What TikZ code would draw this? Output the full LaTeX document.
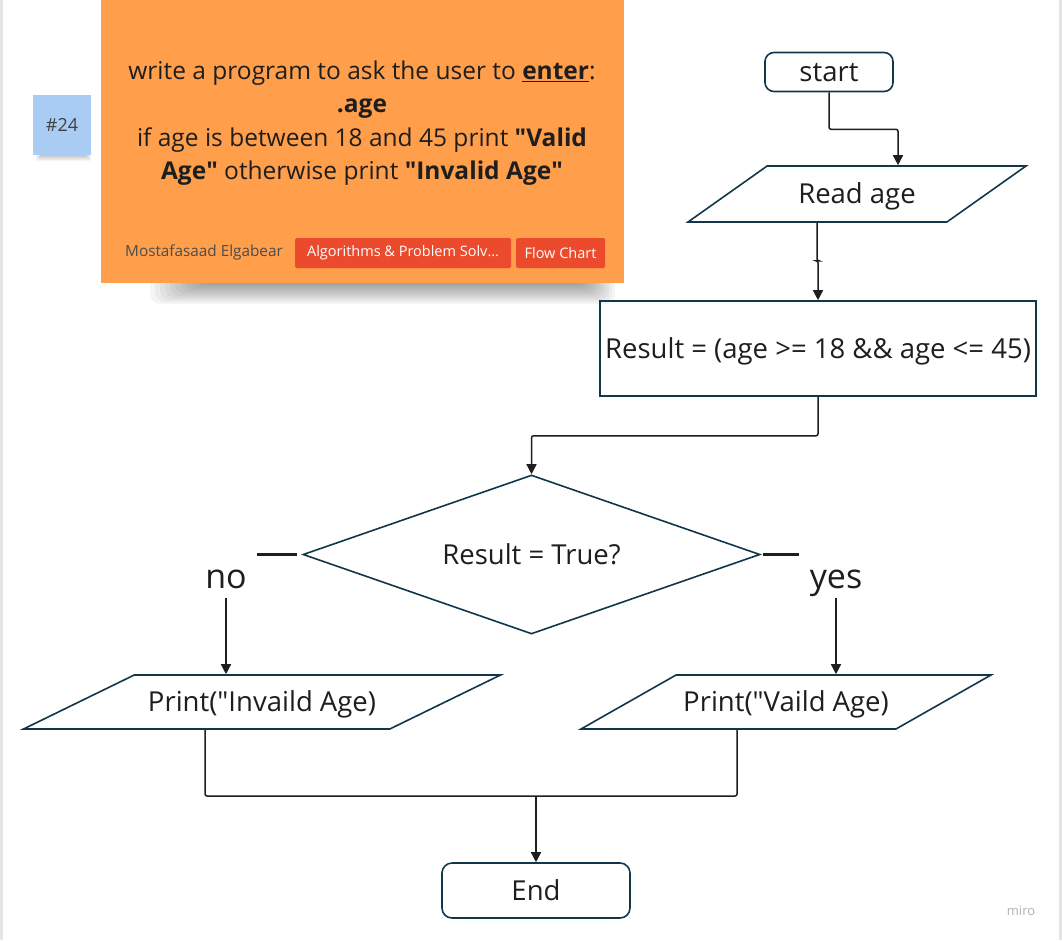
\documentclass[tikz,border=0pt]{standalone}
\usepackage{fontspec}
\setmainfont{Open Sans}
\usetikzlibrary{shapes.geometric,arrows.meta}
\definecolor{edge}{HTML}{12364A}
\definecolor{sticky}{HTML}{FF9E4B}
\definecolor{note}{HTML}{A9CCF4}
\definecolor{tag}{HTML}{EC4A2D}
\definecolor{ink}{HTML}{1E1E1E}
\newcommand{\dq}{\textquotedbl}

\begin{document}
\begin{tikzpicture}[x=1pt,y=-1pt,font=\fontsize{27.5}{32}\selectfont,text=ink,
  box/.style={draw=edge,line width=1.6pt,inner sep=0,text height=19.5pt,text depth=0pt},
  term/.style={box,rounded corners=9pt},
  io/.style={box,trapezium,trapezium stretches body=true,inner xsep=0},
  proc/.style={box},
  cond/.style={box,diamond,aspect=2.87},
  arr/.style={draw=ink,line width=1.5pt,rounded corners=2pt,-{Triangle[length=10pt,width=10pt]}},
  conn/.style={draw=ink,line width=1.5pt,rounded corners=2pt},
  lbl/.style={font=\fontsize{34}{40}\selectfont,inner sep=2pt},
  chip/.style={fill=tag,text=white,font=\fontsize{14.5}{17}\selectfont,minimum height=30pt,inner sep=0,rounded corners=1.5pt}]
\useasboundingbox (0,0) rectangle (1062,940);
\fill[white] (0,0) rectangle (1062,940);
\draw[black!10,line width=3pt] (1.5,0) -- (1.5,940) (1060.5,0) -- (1060.5,940);

\foreach \i in {0,...,11}
  \fill[black,opacity=0.04,rounded corners=10pt] (150+5*\i,270) rectangle (615-3*\i,304-2*\i);
\foreach \i in {0,...,5}
  \fill[black,opacity=0.04] (36+\i,150) rectangle (91-\i,161-\i);

\node[fill=note,minimum width=58pt,minimum height=60pt,inner sep=0,font=\fontsize{18}{20}\selectfont,text=black!75] (num) at (62,125) {\#24};
\node[fill=sticky,minimum width=523pt,minimum height=283pt,inner sep=0] (card) at (362.5,141.5) {};
\node[align=center,font=\fontsize{24.5}{33.5}\selectfont] (task) at (362,123)
  {write a program to ask the user to \underline{\textbf{enter}}:\\ \textbf{.age}\\
   if age is between 18 and 45 print \textbf{\dq Valid}\\ \textbf{Age\dq} otherwise print \textbf{\dq Invalid Age\dq}};
\node[text=black!70,font=\fontsize{15.3}{18}\selectfont] (author) at (204,252) {Mostafasaad Elgabear};
\node[chip,minimum width=216pt] (tag1) at (403,253) {Algorithms \& Problem Solv…};
\node[chip,minimum width=89pt] (tag2) at (560.5,253) {Flow Chart};

\node[term,minimum width=128pt,minimum height=39pt] (start) at (829,72) {start};
\node[io,inner ysep=18.25pt,trapezium left angle=35.3,trapezium right angle=144.7,minimum width=338pt] (read) at (857,194) {Read age};
\node[proc,minimum width=436pt,minimum height=95pt] (res) at (818,348.5) {Result = (age >= 18 \&\& age <= 45)};
\node[cond,minimum width=457pt,minimum height=159pt] (dec) at (531.5,554.5) {Result = True?};
\node[lbl,anchor=base] (no) at (226,588) {no};
\node[lbl,anchor=base] (yes) at (836,588) {yes};
\node[io,inner ysep=17.25pt,trapezium left angle=26,trapezium right angle=154,minimum width=477pt] (pinv) at (262,702) {Print(\dq Invaild Age)};
\node[io,inner ysep=17.25pt,trapezium left angle=29.6,trapezium right angle=150.4,minimum width=410pt] (pval) at (786,702) {Print(\dq Vaild Age)};
\node[term,rounded corners=10pt,minimum width=188pt,minimum height=55pt] (end) at (536,890.5) {End};
\node[text=black!30,font=\fontsize{13}{15}\selectfont] (brand) at (1021,911) {miro};

\draw[arr] (start.south) -- ++(0,37) -| ([xshift=41pt]read.north);
\draw[arr] ([xshift=-40pt]read.south) -- ++(0,38) -| (res.north);
\draw[arr] (res.south) -- ++(0,39) -| (dec.north);
\draw[conn,line width=2.5pt] ([xshift=-5pt]dec.west) -- ++(-40,0) coordinate (noend);
\draw[conn,line width=2.5pt] ([xshift=2pt]dec.east) -- ++(36,0) coordinate (yesend);
\draw[arr] ([yshift=-10pt]no.base) -- (no.base |- pinv.north);
\draw[arr] ([yshift=-10pt]yes.base) -- (yes.base |- pval.north);
\coordinate (join) at (536,796);
\draw[conn] ([xshift=-57pt]pinv.south) |- (join) -| ([xshift=-49pt]pval.south);
\draw[arr] (join) -- (end.north);
\end{tikzpicture}
\end{document}
